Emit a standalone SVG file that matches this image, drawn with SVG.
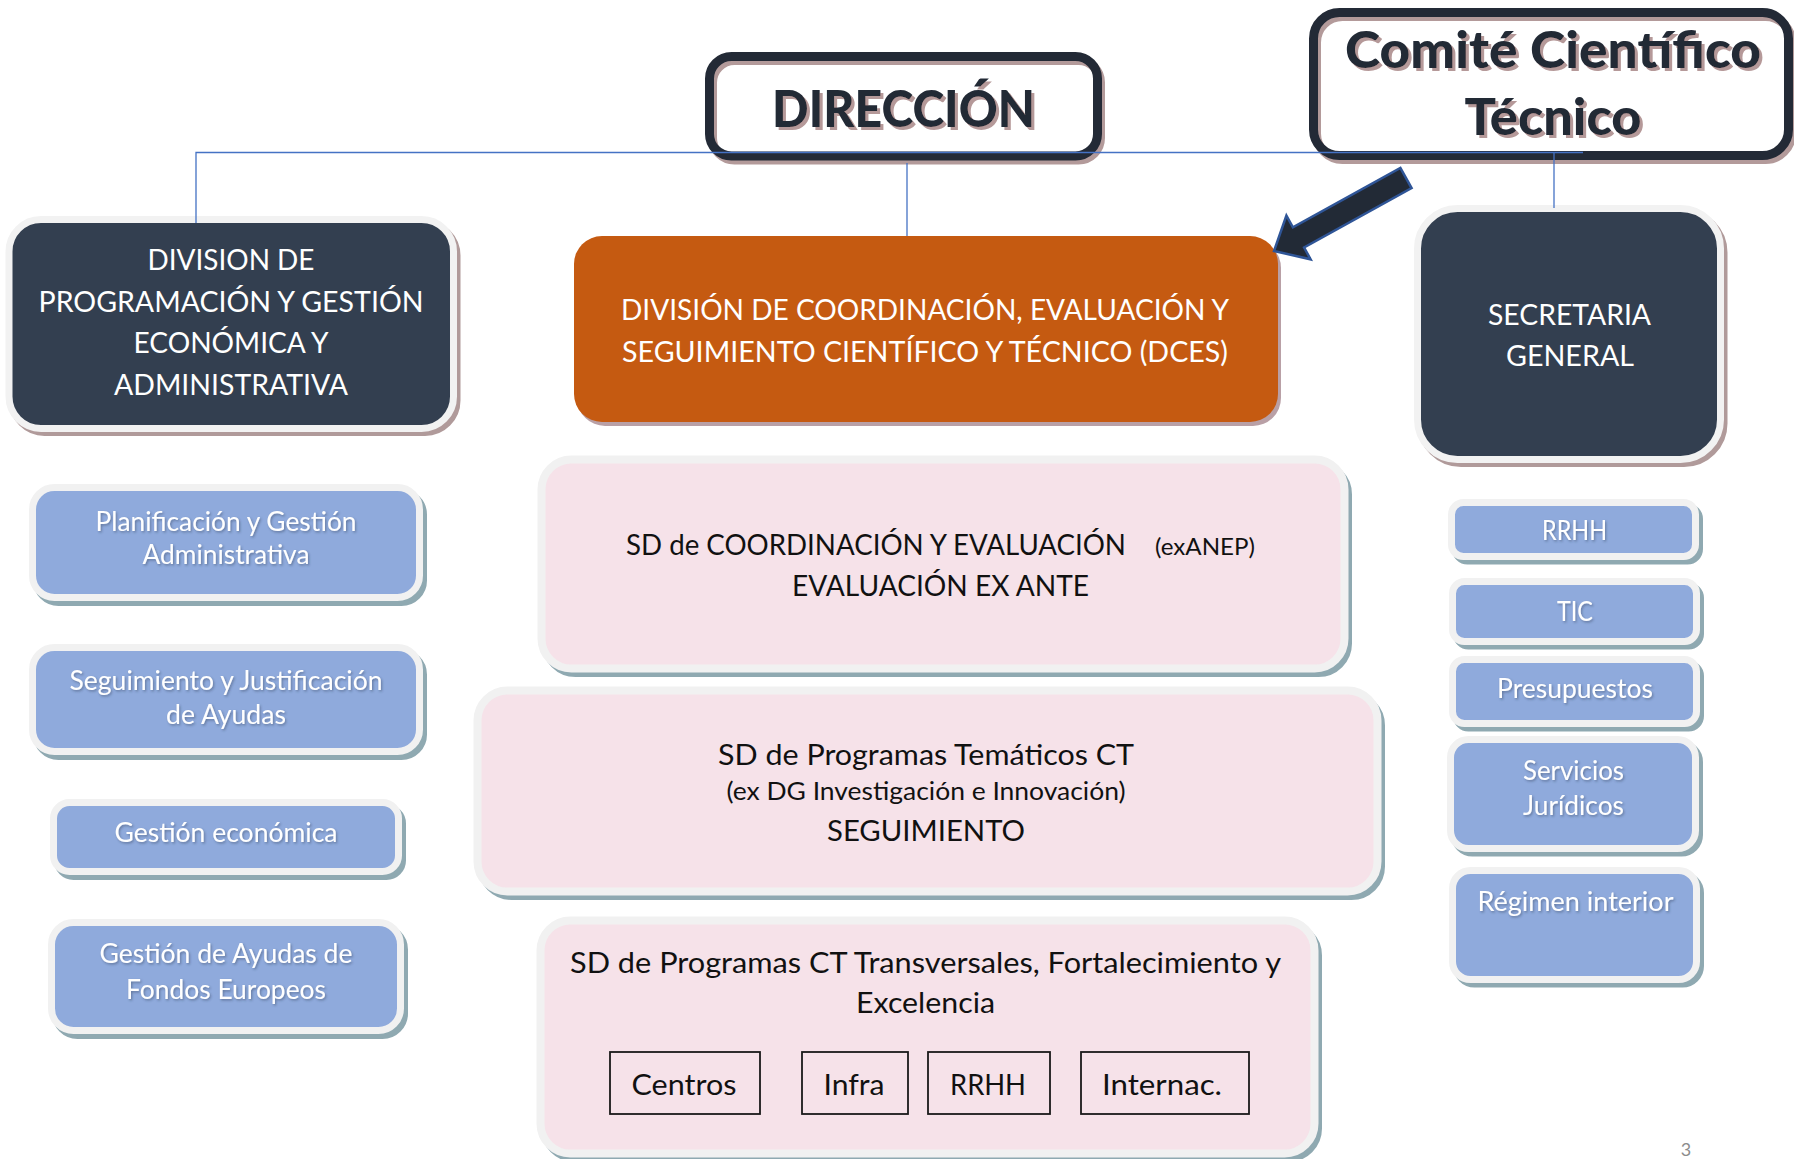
<svg xmlns="http://www.w3.org/2000/svg" width="1794" height="1159" viewBox="0 0 1794 1159">
<defs>
<style>
.t{font-family:Lato,"Noto Sans","DejaVu Sans",sans-serif;text-anchor:middle}
.w{fill:#ffffff}
.k{fill:#111111}
.big{font-size:29.5px}
.mid{font-size:26px}
.ttl{font-weight:900;fill:#232a36;filter:url(#tsTitle)}
.bshadow{filter:url(#tsBlue)}
.frameW{fill:#ffffff}
.frameS{fill:none;stroke:#b39a9a;stroke-width:9}
.frameD{fill:none;stroke:#232a36;stroke-width:9}
.darkBox{fill:#333f50;stroke:#f2f2f2;stroke-width:7}
.darkSh{fill:#b09a9a;stroke:#b09a9a;stroke-width:7}
.pinkBox{fill:#f6e2e9;stroke:#f1f1f1;stroke-width:8}
.blueBox{fill:#8faadc;stroke:#f1f1f1;stroke-width:7}
.coolSh{fill:#8fa9b1;stroke:#8fa9b1;stroke-width:7}
.sub{fill:none;stroke:#1a1a1a;stroke-width:1.8}
.conn{fill:none;stroke:#4472c4;stroke-width:1.3}
</style>
<filter id="tsTitle" x="-5%" y="-10%" width="115%" height="140%">
<feDropShadow dx="3" dy="3" stdDeviation="0.3" flood-color="#b59999" flood-opacity="1"/>
</filter>
<filter id="tsBlue" x="-5%" y="-10%" width="115%" height="140%">
<feDropShadow dx="1.2" dy="1.5" stdDeviation="0.9" flood-color="#2b3a55" flood-opacity="0.45"/>
</filter>
</defs>
<rect x="0" y="0" width="1794" height="1159" fill="#ffffff"/>

<g id="n-direccion">
<rect class="frameW" x="709.5" y="56.5" width="388" height="99.5" rx="22"/>
<rect class="frameS" x="712.5" y="60.5" width="388" height="99.5" rx="22"/>
<rect class="frameD" x="709.5" y="56.5" width="388" height="99.5" rx="22"/>
<text class="t ttl" x="903.5" y="127" font-size="51" textLength="263" lengthAdjust="spacingAndGlyphs">DIRECCIÓN</text>
</g>

<g id="n-comite">
<rect class="frameW" x="1313.5" y="12.5" width="475" height="143" rx="26"/>
<rect class="frameS" x="1316.5" y="16.5" width="475" height="143" rx="26"/>
<rect class="frameD" x="1313.5" y="12.5" width="475" height="143" rx="26"/>
<text class="t ttl" x="1553" y="68" font-size="52" textLength="416" lengthAdjust="spacingAndGlyphs">Comité Científico</text>
<text class="t ttl" x="1553" y="135" font-size="52" textLength="177" lengthAdjust="spacingAndGlyphs">Técnico</text>
</g>

<g id="n-dpgea">
<rect class="darkSh" x="12.5" y="223.5" width="444.5" height="209" rx="32"/>
<rect class="darkBox" x="9" y="219.5" width="444.5" height="209" rx="32"/>
<text class="t w big" x="231" y="270" textLength="167" lengthAdjust="spacingAndGlyphs">DIVISION DE</text>
<text class="t w big" x="231" y="312" textLength="385" lengthAdjust="spacingAndGlyphs">PROGRAMACIÓN Y GESTIÓN</text>
<text class="t w big" x="231" y="353" textLength="195" lengthAdjust="spacingAndGlyphs">ECONÓMICA Y</text>
<text class="t w big" x="231" y="395" textLength="234" lengthAdjust="spacingAndGlyphs">ADMINISTRATIVA</text>
</g>

<g id="n-dces">
<rect x="577" y="240" width="704" height="186" rx="28" fill="#b9a0a6"/>
<rect x="574" y="236" width="704" height="186" rx="28" fill="#c55a11"/>
<text class="t w big" x="925" y="320" textLength="608" lengthAdjust="spacingAndGlyphs">DIVISIÓN DE COORDINACIÓN, EVALUACIÓN Y</text>
<text class="t w big" x="925" y="362" textLength="606" lengthAdjust="spacingAndGlyphs">SEGUIMIENTO CIENTÍFICO Y TÉCNICO (DCES)</text>
</g>

<g id="n-sd-coordinacion">
<rect class="coolSh" x="545.5" y="464.5" width="803" height="209" rx="30"/>
<rect class="pinkBox" x="541.5" y="459.5" width="803" height="209" rx="30"/>
<text class="t k" x="876" y="555" font-size="29" textLength="500" lengthAdjust="spacingAndGlyphs">SD de COORDINACIÓN Y EVALUACIÓN</text>
<text class="t k" x="1205" y="555" font-size="24" textLength="100" lengthAdjust="spacingAndGlyphs">(exANEP)</text>
<text class="t k big" x="940.5" y="596" textLength="297" lengthAdjust="spacingAndGlyphs">EVALUACIÓN EX ANTE</text>
</g>

<g id="n-sd-tematicos">
<rect class="coolSh" x="481.5" y="695.5" width="900" height="201" rx="30"/>
<rect class="pinkBox" x="477.5" y="690.5" width="900" height="201" rx="30"/>
<text class="t k big" x="926" y="765" textLength="416" lengthAdjust="spacingAndGlyphs">SD de Programas Temáticos CT</text>
<text class="t k" x="926" y="800" font-size="25.5" textLength="399" lengthAdjust="spacingAndGlyphs">(ex DG Investigación e Innovación)</text>
<text class="t k big" x="926" y="841" textLength="198" lengthAdjust="spacingAndGlyphs">SEGUIMIENTO</text>
</g>

<g id="n-sd-transversales">
<rect class="coolSh" x="544.5" y="925.5" width="774" height="233" rx="30"/>
<rect class="pinkBox" x="540.5" y="920.5" width="774" height="233" rx="30"/>
<text class="t k big" x="925.5" y="973" textLength="711" lengthAdjust="spacingAndGlyphs">SD de Programas CT Transversales, Fortalecimiento y</text>
<text class="t k big" x="925.5" y="1013" textLength="139" lengthAdjust="spacingAndGlyphs">Excelencia</text>
<g id="n-centros">
<rect class="sub" x="610" y="1052" width="150" height="62"/>
<text class="t k big" x="684" y="1095" textLength="105" lengthAdjust="spacingAndGlyphs">Centros</text>
</g>
<g id="n-infra">
<rect class="sub" x="802" y="1052" width="106" height="62"/>
<text class="t k big" x="854" y="1095" textLength="61" lengthAdjust="spacingAndGlyphs">Infra</text>
</g>
<g id="n-rrhh-ct">
<rect class="sub" x="928" y="1052" width="122" height="62"/>
<text class="t k big" x="988" y="1095" textLength="76" lengthAdjust="spacingAndGlyphs">RRHH</text>
</g>
<g id="n-internac">
<rect class="sub" x="1081" y="1052" width="168" height="62"/>
<text class="t k big" x="1162" y="1095" textLength="120" lengthAdjust="spacingAndGlyphs">Internac.</text>
</g>
</g>

<g id="n-planificacion">
<rect class="coolSh" x="36.5" y="492.5" width="387" height="110" rx="22"/>
<rect class="blueBox" x="32.5" y="487.5" width="387" height="110" rx="22"/>
<text class="t w mid bshadow" x="226" y="531" textLength="261" lengthAdjust="spacingAndGlyphs">Planificación y Gestión</text>
<text class="t w mid bshadow" x="226" y="564" textLength="167" lengthAdjust="spacingAndGlyphs">Administrativa</text>
</g>

<g id="n-seguimiento">
<rect class="coolSh" x="36.5" y="652.5" width="387" height="104" rx="22"/>
<rect class="blueBox" x="32.5" y="647.5" width="387" height="104" rx="22"/>
<text class="t w mid bshadow" x="226" y="690" textLength="313" lengthAdjust="spacingAndGlyphs">Seguimiento y Justificación</text>
<text class="t w mid bshadow" x="226" y="724" textLength="120" lengthAdjust="spacingAndGlyphs">de Ayudas</text>
</g>

<g id="n-gestion-economica">
<rect class="coolSh" x="57.5" y="807.5" width="345" height="69" rx="16"/>
<rect class="blueBox" x="53.5" y="802.5" width="345" height="69" rx="16"/>
<text class="t w mid bshadow" x="226" y="842" textLength="223" lengthAdjust="spacingAndGlyphs">Gestión económica</text>
</g>

<g id="n-fondos-europeos">
<rect class="coolSh" x="55.5" y="927.5" width="349" height="108" rx="22"/>
<rect class="blueBox" x="51.5" y="922.5" width="349" height="108" rx="22"/>
<text class="t w mid bshadow" x="226" y="963" textLength="253" lengthAdjust="spacingAndGlyphs">Gestión de Ayudas de</text>
<text class="t w mid bshadow" x="226" y="999" textLength="200" lengthAdjust="spacingAndGlyphs">Fondos Europeos</text>
</g>

<g id="n-secretaria">
<rect class="darkSh" x="1421" y="212.5" width="303" height="251" rx="40"/>
<rect class="darkBox" x="1417.5" y="208.5" width="303" height="251" rx="40"/>
<text class="t w big" x="1569.5" y="325" textLength="163" lengthAdjust="spacingAndGlyphs">SECRETARIA</text>
<text class="t w big" x="1570" y="366" textLength="128" lengthAdjust="spacingAndGlyphs">GENERAL</text>
</g>

<g id="n-rrhh">
<rect class="coolSh" x="1455.5" y="507" width="244" height="54" rx="12"/>
<rect class="blueBox" x="1451.5" y="502.5" width="244" height="54" rx="12"/>
<text class="t w mid bshadow" x="1574.5" y="540" textLength="65" lengthAdjust="spacingAndGlyphs">RRHH</text>
</g>

<g id="n-tic">
<rect class="coolSh" x="1456.5" y="586" width="244" height="60" rx="12"/>
<rect class="blueBox" x="1452.5" y="581.5" width="244" height="60" rx="12"/>
<text class="t w mid bshadow" x="1575" y="621" textLength="36" lengthAdjust="spacingAndGlyphs">TIC</text>
</g>

<g id="n-presupuestos">
<rect class="coolSh" x="1456.5" y="664" width="244" height="64" rx="12"/>
<rect class="blueBox" x="1452.5" y="659.5" width="244" height="64" rx="12"/>
<text class="t w mid bshadow" x="1575" y="698" textLength="156" lengthAdjust="spacingAndGlyphs">Presupuestos</text>
</g>

<g id="n-servicios-juridicos">
<rect class="coolSh" x="1454.5" y="744" width="245" height="109" rx="18"/>
<rect class="blueBox" x="1450.5" y="739.5" width="245" height="109" rx="18"/>
<text class="t w mid bshadow" x="1573.5" y="780" textLength="101" lengthAdjust="spacingAndGlyphs">Servicios</text>
<text class="t w mid bshadow" x="1573.5" y="815" textLength="101" lengthAdjust="spacingAndGlyphs">Jurídicos</text>
</g>

<g id="n-regimen-interior">
<rect class="coolSh" x="1456.5" y="875" width="244" height="109" rx="18"/>
<rect class="blueBox" x="1452.5" y="870.5" width="244" height="109" rx="18"/>
<text class="t w mid bshadow" x="1575.5" y="911" textLength="196" lengthAdjust="spacingAndGlyphs">Régimen interior</text>
</g>

<g id="connectors">
<path class="conn" d="M196,223 V152.5 H1583"/>
<path class="conn" d="M907,163 V236"/>
<path class="conn" d="M1554,152.5 V208"/>
<polygon points="1274,251 1310.6,259.3 1304.1,247.5 1411.6,188.1 1400.4,167.9 1292.9,227.3 1286.4,215.5" fill="#222a36" stroke="#2f5597" stroke-width="2.5" stroke-linejoin="miter"/>
</g>

<text id="page-number" class="t" x="1686" y="1156" font-size="18" fill="#8c8c8c">3</text>
</svg>
